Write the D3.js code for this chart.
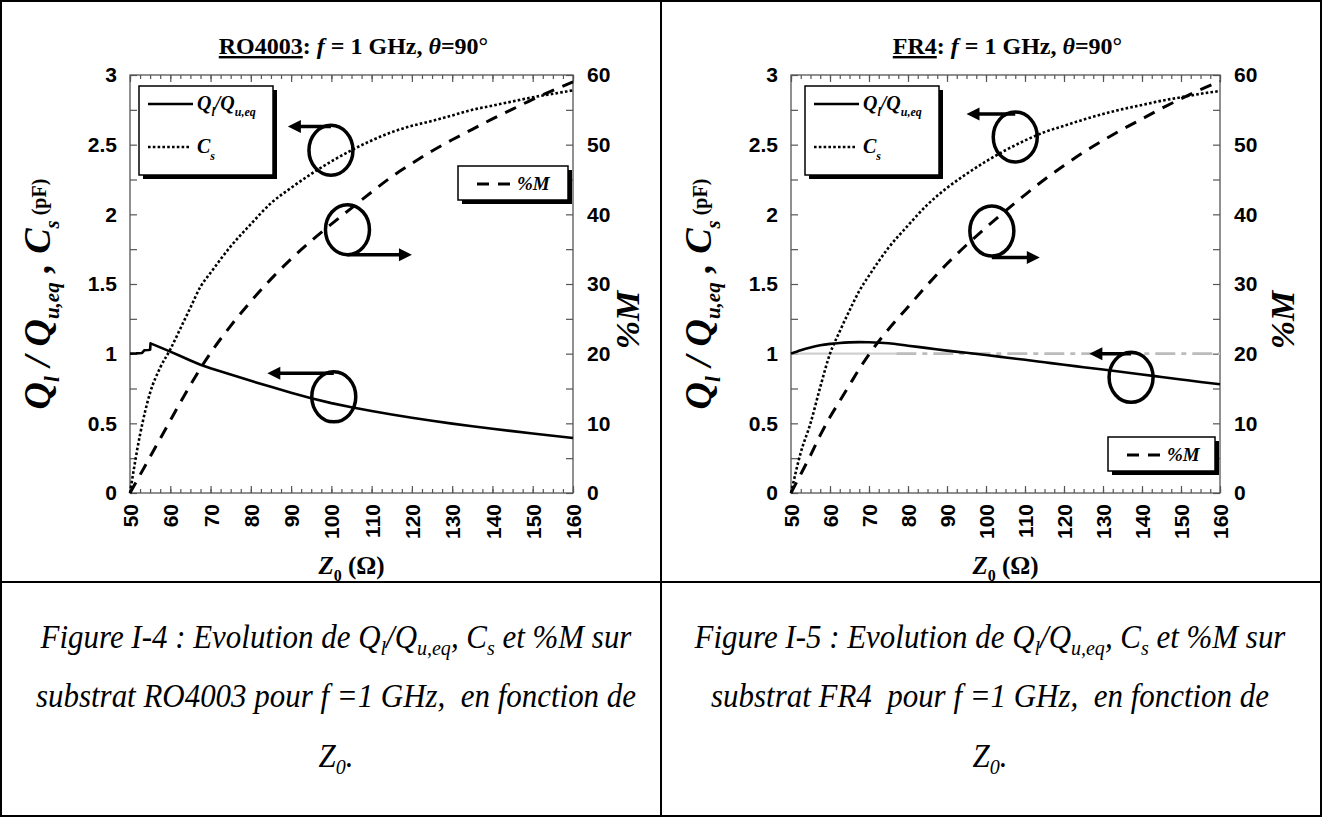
<!DOCTYPE html>
<html><head><meta charset="utf-8">
<script src="https://cdn.jsdelivr.net/npm/d3@7"></script>
<style>
html,body{margin:0;padding:0;background:#fff;}
svg{display:block;}
text{white-space:pre;}
</style></head><body>
<svg id="c" width="1322" height="817"></svg>
<script>
// ---------------- data ----------------
const zGrid = [50, 52.5, 55, 57.5, 60, 62.5, 65, 67.5, 70, 75, 80, 85, 90, 95, 100, 105, 110, 115, 120, 125, 130, 135, 140, 145, 150, 155, 160];

// RO4003
const roQZ = [50, 51.5, 53, 53.6, 54.5, 55, 55.1, 57.5, 60, 62.5, 65, 67.5, 70, 75, 80, 85, 90, 95, 100, 105, 110, 115, 120, 125, 130, 135, 140, 145, 150, 155, 160];
const roQ  = [1.0, 1.002, 1.005, 1.025, 1.026, 1.028, 1.074, 1.045, 1.015, 0.983, 0.951, 0.92, 0.895, 0.85, 0.805, 0.762, 0.72, 0.68, 0.645, 0.615, 0.588, 0.563, 0.54, 0.518, 0.498, 0.479, 0.461, 0.444, 0.427, 0.411, 0.395];
const roCs = [0, 0.42, 0.72, 0.9, 1.03, 1.18, 1.33, 1.48, 1.58, 1.77, 1.93, 2.08, 2.19, 2.29, 2.38, 2.46, 2.53, 2.59, 2.635, 2.67, 2.71, 2.75, 2.78, 2.81, 2.84, 2.865, 2.89];
const roM  = [0, 2.6, 5.2, 7.8, 10.4, 13.0, 15.5, 17.9, 20.1, 24.0, 27.5, 30.7, 33.6, 36.2, 38.6, 40.9, 43.2, 45.4, 47.3, 49.1, 50.7, 52.2, 53.7, 55.1, 56.5, 57.8, 59.0];

// FR4
const frQ  = [1.0, 1.025, 1.045, 1.06, 1.07, 1.077, 1.081, 1.083, 1.082, 1.075, 1.057, 1.04, 1.022, 1.006, 0.99, 0.973, 0.956, 0.938, 0.92, 0.903, 0.886, 0.868, 0.851, 0.833, 0.815, 0.797, 0.78];
const frCs = [0, 0.29, 0.5, 0.76, 1.0, 1.16, 1.31, 1.45, 1.56, 1.76, 1.92, 2.07, 2.19, 2.29, 2.38, 2.46, 2.53, 2.59, 2.635, 2.68, 2.72, 2.755, 2.785, 2.815, 2.84, 2.865, 2.885];
const frM  = [0, 2.7, 5.4, 8.3, 10.9, 13.2, 15.5, 17.8, 19.9, 23.5, 26.7, 29.9, 32.9, 35.6, 38.1, 40.5, 42.8, 45.0, 47.0, 48.9, 50.6, 52.2, 53.7, 55.2, 56.6, 57.9, 59.1];
const frRefZ = [50, 160];
const frRefV = [1, 1];
const frRefSolidEnd = 77;

// tick labels
const xTicks = [50, 60, 70, 80, 90, 100, 110, 120, 130, 140, 150, 160];
const yLeftTicks = [0, 0.5, 1, 1.5, 2, 2.5, 3];
const yRightTicks = [0, 10, 20, 30, 40, 50, 60];

// annotations (data coordinates): ring centre [Z, value on left axis]
const roRings = [[99.9, 2.46], [104, 1.89], [100.6, 0.69]];
// arrows: [startZ, value, tipZ]
const roArrows = [[99.9, 2.63, 89.2], [104, 1.71, 120], [100.6, 0.86, 84.1]];
const frRings = [[107.5, 2.555], [101.5, 1.88], [137.2, 0.83]];
const frArrows = [[107.5, 2.72, 95], [101.5, 1.69, 113.8], [137.2, 1.0, 126.5]];

// captions
const cap1 = [
  [["Figure I-4 : Evolution de Q"],["l",1],["/Q"],["u,eq",1],[", C"],["s",1],[" et %M sur"]],
  [["substrat RO4003 pour f =1 GHz,  en fonction de"]],
  [["Z"],["0",1],["."]]
];
const cap2 = [
  [["Figure I-5 : Evolution de Q"],["l",1],["/Q"],["u,eq",1],[", C"],["s",1],[" et %M sur"]],
  [["substrat FR4  pour f =1 GHz,  en fonction de"]],
  [["Z"],["0",1],["."]]
];

// ---------------- layout ----------------
const W = 1322, H = 817;
const svg = d3.select('#c');
const SERIF = "'Liberation Serif','Times New Roman',serif";
const SANS = "'Liberation Sans',Arial,sans-serif";

svg.append('rect').attr('x',1).attr('y',1).attr('width',W-2).attr('height',H-2)
  .attr('fill','none').attr('stroke','#000').attr('stroke-width',2);
svg.append('line').attr('x1',661).attr('x2',661).attr('y1',0).attr('y2',H).attr('stroke','#000').attr('stroke-width',2);
svg.append('line').attr('x1',0).attr('x2',W).attr('y1',582).attr('y2',582).attr('stroke','#000').attr('stroke-width',2);

function rich(textSel, parts, base, subSize, subShift) {
  let shift = 0;
  parts.forEach(p => {
    const t = textSel.append('tspan').text(p.t);
    const target = p.sub ? subShift : 0;
    if (target !== shift) { t.attr('dy', target - shift); shift = target; }
    t.attr('font-size', p.sub ? subSize : (p.fs || base));
    if (p.it === false) t.attr('font-style','normal');
    if (p.it === true) t.attr('font-style','italic');
    if (p.deco) t.attr('text-decoration', p.deco);
  });
  return shift;
}

const panels = [
  {l:130, t:75, r:573, b:493, name:'RO4003', qz:roQZ, q:roQ, qLinear:true, cs:roCs, m:roM, ref:false,
   leg1:{x:139, y:86, w:134, h:89}, leg2:{x:458, y:166, w:110, h:34},
   rings:roRings, arrows:roArrows, rTitle:66},
  {l:791, t:75, r:1220, b:493, name:'FR4', qz:zGrid, q:frQ, qLinear:false, cs:frCs, m:frM, ref:true,
   leg1:{x:805, y:86, w:134, h:89}, leg2:{x:1108, y:437, w:107, h:34},
   rings:frRings, arrows:frArrows, rTitle:74}
];

panels.forEach(p => {
  const g = svg.append('g');
  const x = d3.scaleLinear().domain([50,160]).range([p.l, p.r]);
  const yL = d3.scaleLinear().domain([0,3]).range([p.b, p.t]);
  const yR = d3.scaleLinear().domain([0,60]).range([p.b, p.t]);
  const tickCol = '#555';

  const xMinor = d3.range(50, 160.01, 2.5);
  const ax = (sel) => { sel.select('.domain').remove(); sel.selectAll('line').attr('stroke', tickCol).attr('stroke-width',1.2); };
  g.append('g').attr('transform',`translate(0,${p.b})`)
    .call(d3.axisBottom(x).tickValues(xMinor).tickSize(-4).tickSizeOuter(0).tickFormat('')).call(ax);
  const xb = g.append('g').attr('transform',`translate(0,${p.b})`)
    .call(d3.axisBottom(x).tickValues(xTicks).tickSize(-7).tickSizeOuter(0).tickFormat(d3.format('d'))).call(ax);
  xb.selectAll('text').attr('transform','rotate(-90)').attr('x',-11).attr('y',0).attr('dy','0.36em')
    .attr('text-anchor','end').attr('font-family',SANS).attr('font-weight','bold').attr('font-size',21).attr('fill','#000');
  g.append('g').attr('transform',`translate(0,${p.t})`)
    .call(d3.axisTop(x).tickValues(xMinor).tickSize(-4).tickSizeOuter(0).tickFormat('')).call(ax);
  g.append('g').attr('transform',`translate(0,${p.t})`)
    .call(d3.axisTop(x).tickValues(xTicks).tickSize(-7).tickSizeOuter(0).tickFormat('')).call(ax);

  const yLminor = d3.range(0, 3.001, 0.25);
  const yl = g.append('g').attr('transform',`translate(${p.l},0)`)
    .call(d3.axisLeft(yL).tickValues(yLminor).tickSize(-7).tickSizeOuter(0).tickPadding(13)
      .tickFormat(d => yLeftTicks.some(v => Math.abs(v-d)<1e-9) ? d3.format('~g')(d) : '')).call(ax);
  const yRminor = d3.range(0, 60.01, 5);
  const yr = g.append('g').attr('transform',`translate(${p.r},0)`)
    .call(d3.axisRight(yR).tickValues(yRminor).tickSize(-7).tickSizeOuter(0).tickPadding(14)
      .tickFormat(d => yRightTicks.includes(d) ? d3.format('d')(d) : '')).call(ax);
  [yl, yr].forEach(s => s.selectAll('text').attr('font-family',SANS).attr('font-weight','bold').attr('font-size',21).attr('fill','#000'));

  g.append('rect').attr('x',p.l).attr('y',p.t).attr('width',p.r-p.l).attr('height',p.b-p.t)
    .attr('fill','none').attr('stroke',tickCol).attr('stroke-width',1.3);

  const lineL = d3.line().x(d=>x(d[0])).y(d=>yL(d[1]));

  if (p.ref) {
    const refPts = frRefZ.map((z,i) => [z, frRefV[i]]);
    const solidPts = [[frRefZ[0], frRefV[0]], [frRefSolidEnd, frRefV[0]]];
    const dashPts = [[frRefSolidEnd, frRefV[0]], refPts[refPts.length-1]];
    g.append('path').attr('d', lineL(solidPts)).attr('fill','none').attr('stroke','#d0d0d0').attr('stroke-width',2.2);
    g.append('path').attr('d', lineL(dashPts))
      .attr('fill','none').attr('stroke','#bcbcbc').attr('stroke-width',2.6).attr('stroke-dasharray','20,6,5,6');
  }

  const qPts = p.qz.map((z,i) => [z, p.q[i]]);
  const lq = d3.line().x(d=>x(d[0])).y(d=>yL(d[1])).curve(p.qLinear ? d3.curveLinear : d3.curveMonotoneX);
  g.append('path').attr('d', lq(qPts)).attr('fill','none').attr('stroke','#000').attr('stroke-width',2.6).attr('stroke-linejoin','round');
  const csPts = zGrid.map((z,i) => [z, p.cs[i]]);
  g.append('path').attr('d', d3.line().x(d=>x(d[0])).y(d=>yL(d[1])).curve(d3.curveMonotoneX)(csPts))
    .attr('fill','none').attr('stroke','#000').attr('stroke-width',2.6).attr('stroke-dasharray','2.6,2.2');
  const mPts = zGrid.map((z,i) => [z, p.m[i]]);
  g.append('path').attr('d', d3.line().x(d=>x(d[0])).y(d=>yR(d[1])).curve(d3.curveMonotoneX)(mPts))
    .attr('fill','none').attr('stroke','#000').attr('stroke-width',3).attr('stroke-dasharray','12,9');

  const L1 = p.leg1;
  g.append('rect').attr('x',L1.x+4).attr('y',L1.y+4).attr('width',L1.w).attr('height',L1.h).attr('fill','#000');
  g.append('rect').attr('x',L1.x).attr('y',L1.y).attr('width',L1.w).attr('height',L1.h).attr('fill','#fff').attr('stroke','#000').attr('stroke-width',1.5);
  g.append('line').attr('x1',L1.x+9).attr('x2',L1.x+54).attr('y1',L1.y+18).attr('y2',L1.y+18).attr('stroke','#000').attr('stroke-width',2.6);
  g.append('line').attr('x1',L1.x+9).attr('x2',L1.x+52).attr('y1',L1.y+61).attr('y2',L1.y+61).attr('stroke','#000').attr('stroke-width',2.6).attr('stroke-dasharray','2.6,2.2');
  const t1 = g.append('text').attr('x',L1.x+58).attr('y',L1.y+24).attr('font-family',SERIF).attr('font-weight','bold').attr('font-style','italic').attr('font-size',20);
  rich(t1, [{t:'Q'},{t:'l',sub:1},{t:'/Q'},{t:'u,eq',sub:1}], 20, 12, 6);
  const t2 = g.append('text').attr('x',L1.x+58).attr('y',L1.y+67).attr('font-family',SERIF).attr('font-weight','bold').attr('font-style','italic').attr('font-size',20);
  rich(t2, [{t:'C'},{t:'s',sub:1}], 20, 12, 7);

  const L2 = p.leg2;
  g.append('rect').attr('x',L2.x+4).attr('y',L2.y+4).attr('width',L2.w).attr('height',L2.h).attr('fill','#000');
  g.append('rect').attr('x',L2.x).attr('y',L2.y).attr('width',L2.w).attr('height',L2.h).attr('fill','#fff').attr('stroke','#000').attr('stroke-width',1.5);
  g.append('line').attr('x1',L2.x+19).attr('x2',L2.x+52).attr('y1',L2.y+L2.h/2+1).attr('y2',L2.y+L2.h/2+1).attr('stroke','#000').attr('stroke-width',3).attr('stroke-dasharray','12,9');
  g.append('text').attr('x',L2.x+59).attr('y',L2.y+L2.h/2+7).attr('font-family',SERIF).attr('font-weight','bold').attr('font-style','italic').attr('font-size',19).text('%M');

  p.rings.forEach(r => {
    g.append('ellipse').attr('cx',x(r[0])).attr('cy',yL(r[1])).attr('rx',22).attr('ry',25)
      .attr('fill','none').attr('stroke','#000').attr('stroke-width',3.5);
  });
  p.arrows.forEach(a => {
    const x0 = x(a[0]), x1 = x(a[2]), yy = yL(a[1]);
    const dir = Math.sign(x1 - x0);
    const head = 13;
    g.append('line').attr('x1',x0).attr('x2',x1 - dir*head*0.6).attr('y1',yy).attr('y2',yy).attr('stroke','#000').attr('stroke-width',3.5);
    g.append('path').attr('d',`M${x1},${yy} L${x1-dir*head},${yy-6.5} L${x1-dir*head},${yy+6.5} Z`).attr('fill','#000');
  });

  const cx = (p.l + p.r)/2;
  const tt = g.append('text').attr('x',cx+2).attr('y',54).attr('text-anchor','middle')
    .attr('font-family',SERIF).attr('font-weight','bold').attr('font-size',24);
  rich(tt, [{t:p.name, deco:'underline'},{t:': '},{t:'f', it:true},{t:' = 1 GHz, '},{t:'θ', it:true},{t:'=90°'}], 24, 15, 6);

  const xt = g.append('text').attr('x',cx).attr('y',574).attr('text-anchor','middle')
    .attr('font-family',SERIF).attr('font-weight','bold').attr('font-size',25);
  rich(xt, [{t:'Z', it:true},{t:'0',sub:1},{t:' (Ω)'}], 25, 16, 7);

  const yt = g.append('text').attr('transform',`translate(${p.l-80},${(p.t+p.b)/2+10}) rotate(-90)`).attr('text-anchor','middle')
    .attr('font-family',SERIF).attr('font-weight','bold').attr('font-style','italic').attr('font-size',38);
  rich(yt, [{t:'Q'},{t:'l',sub:1},{t:' / Q'},{t:'u,eq',sub:1},{t:' , C'},{t:'s',sub:1}], 38, 21, 9);
  yt.append('tspan').attr('font-size',20).attr('font-style','normal').attr('dy',-13).text(' (pF)');

  g.append('text').attr('transform',`translate(${p.r+p.rTitle},${(p.t+p.b)/2+36}) rotate(-90)`).attr('text-anchor','middle')
    .attr('font-family',SERIF).attr('font-weight','bold').attr('font-style','italic').attr('font-size',34).text('%M');
});

function caption(lines, cx) {
  const ys = [648, 707, 767];
  lines.forEach((ln, i) => {
    const t = svg.append('text').attr('transform',`translate(${cx},${ys[i]}) scale(0.91,1)`).attr('text-anchor','middle')
      .attr('font-family',SERIF).attr('font-style','italic').attr('font-size',34);
    rich(t, ln.map(s => ({t:s[0], sub: !!s[1]})), 34, 22, 7);
  });
}
caption(cap1, 336);
caption(cap2, 990);
</script>
</body></html>
